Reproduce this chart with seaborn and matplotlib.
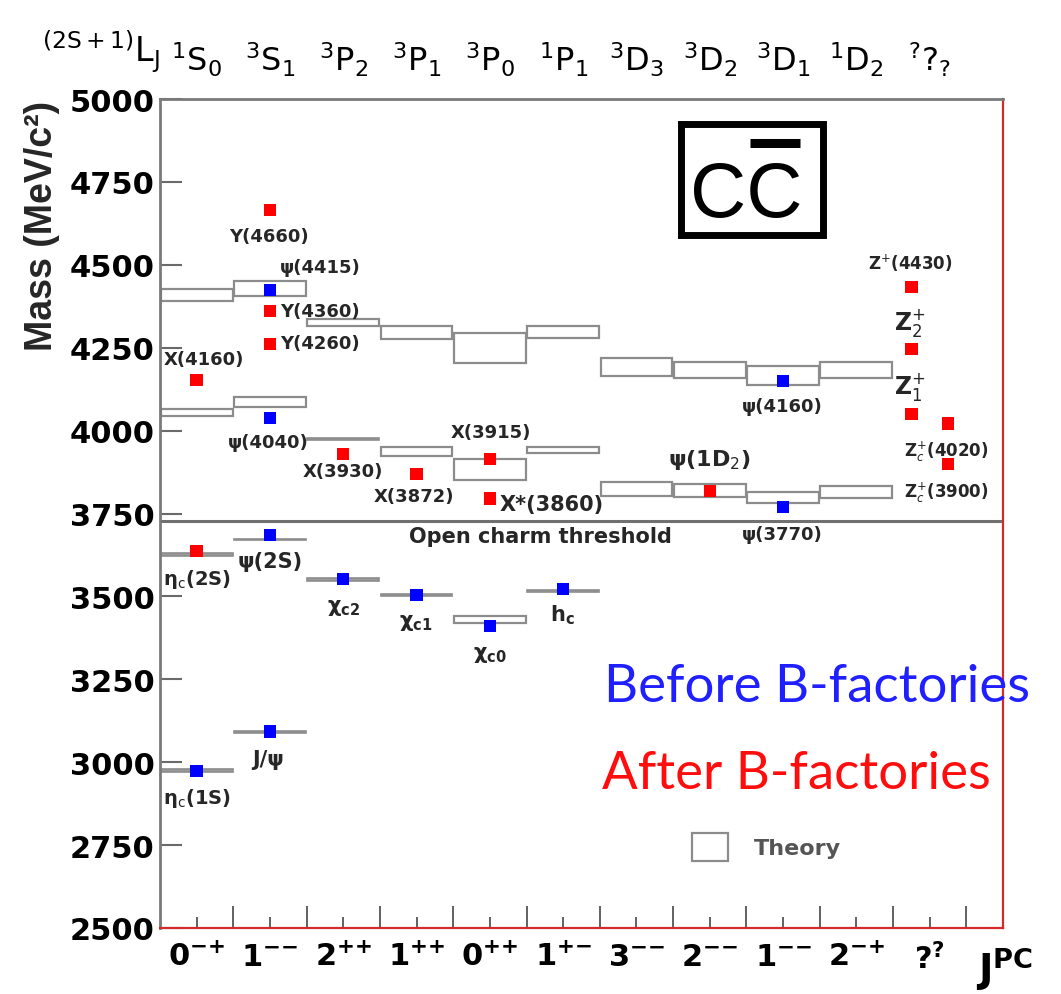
import numpy as np
import pandas as pd
import matplotlib
matplotlib.use("Agg")
import matplotlib.pyplot as plt
import seaborn as sns
from matplotlib.patches import Rectangle, Patch
from matplotlib.lines import Line2D

# ---------------- data ----------------
jpc_labels = [r"$\mathbf{0}^{\mathbf{{-}{+}}}$", r"$\mathbf{1}^{\mathbf{{-}{-}}}$", r"$\mathbf{2}^{\mathbf{{+}{+}}}$",
              r"$\mathbf{1}^{\mathbf{{+}{+}}}$", r"$\mathbf{0}^{\mathbf{{+}{+}}}$", r"$\mathbf{1}^{\mathbf{{+}{-}}}$",
              r"$\mathbf{3}^{\mathbf{{-}{-}}}$", r"$\mathbf{2}^{\mathbf{{-}{-}}}$", r"$\mathbf{1}^{\mathbf{{-}{-}}}$",
              r"$\mathbf{2}^{\mathbf{{-}{+}}}$", r"$\mathbf{?}^{\mathbf{?}}$"]
lj_labels = [r"$^{1}$S$_{0}$", r"$^{3}$S$_{1}$", r"$^{3}$P$_{2}$", r"$^{3}$P$_{1}$", r"$^{3}$P$_{0}$",
             r"$^{1}$P$_{1}$", r"$^{3}$D$_{3}$", r"$^{3}$D$_{2}$", r"$^{3}$D$_{1}$", r"$^{1}$D$_{2}$",
             r"$^{?}$?$_{?}$"]
mass_ticks = [2500, 2750, 3000, 3250, 3500, 3750, 4000, 4250, 4500, 4750, 5000]

# states known before the B-factories (blue)
before_names = ["etac1S", "Jpsi", "psi2S", "chic2", "chic1", "chic0", "hc",
                "psi4040", "psi4415", "psi4160", "psi3770"]
before_col = [0, 1, 1, 2, 3, 4, 5, 1, 1, 8, 8]
before_mass = [2974, 3092, 3685, 3552, 3505, 3411, 3522, 4038, 4424, 4150, 3770]

# states found after the B-factories (red)
after_names = ["etac2S", "X4160", "Y4660", "Y4360", "Y4260", "X3930", "X3872", "X3915",
               "Xs3860", "psi1D2", "Z4430", "Z2", "Z1", "Zc4020", "Zc3900"]
after_col = [0, 0, 1, 1, 1, 2, 3, 4, 4, 7, 10, 10, 10, 10, 10]
after_mass = [3637, 4153, 4665, 4361, 4261, 3929, 3869, 3914, 3795, 3818,
              4433, 4246, 4050, 4021, 3900]

# theory predictions (boxes)
theory_col = [0, 1, 0, 1, 2, 3, 4, 5,
              0, 1, 2, 3, 4, 5, 6, 7, 8, 9,
              0, 1, 2, 3, 4, 5, 6, 7, 8, 9]
theory_lo = [2970, 3087, 3622, 3670, 3547, 3501, 3420, 3513,
             4044, 4071, 3971, 3923, 3851, 3932, 3803, 3800, 3782, 3797,
             4390, 4406, 4315, 4276, 4204, 4279, 4165, 4159, 4138, 4159]
theory_hi = [2978, 3094, 3630, 3673, 3555, 3507, 3441, 3519,
             4065, 4101, 3979, 3951, 3914, 3951, 3845, 3839, 3815, 3833,
             4427, 4451, 4337, 4315, 4294, 4315, 4219, 4207, 4195, 4207]

open_charm = 3727

# ---------------- style ----------------
sns.set_theme(style="white")
plt.rcParams["font.family"] = ["DejaVu Sans"]
plt.rcParams["mathtext.fontset"] = "dejavusans"

W, H = 1061, 995
fig = plt.figure(figsize=(W / 100, H / 100), dpi=100)
ax = fig.add_axes([160 / W, 1 - 929 / H, (1003 - 160) / W, 829 / H])

def fx(px):
    return px / W

def fy(py):
    return 1 - py / H

# theory boxes: wide ones open, narrow ones drawn as thick grey levels
theory = pd.DataFrame({"col": theory_col, "lo": theory_lo, "hi": theory_hi})
theory["h"] = theory["hi"] - theory["lo"]
wide = theory[theory["h"] >= 12]
thin = theory[theory["h"] < 12]
ax.bar(wide["col"], wide["h"], bottom=wide["lo"], width=0.98,
       facecolor="none", edgecolor="#8c8c8c", linewidth=1.6, zorder=2)
ax.bar(thin["col"], thin["h"], bottom=thin["lo"], width=0.98,
       facecolor="#9a9a9a", edgecolor="#8c8c8c", linewidth=1.2, zorder=2)

# open charm threshold
ax.axhline(open_charm, color="#707070", lw=2.2, zorder=2)

# points
dodge = {"Z4430": -0.25, "Z2": -0.25, "Z1": -0.25, "Zc4020": 0.25, "Zc3900": 0.25}
pts = pd.DataFrame({
    "name": before_names + after_names,
    "col": before_col + after_col,
    "mass": before_mass + after_mass,
    "era": ["before"] * len(before_names) + ["after"] * len(after_names),
})
pts["x"] = pts["col"] + pts["name"].map(dodge).fillna(0)
sns.scatterplot(data=pts, x="x", y="mass", hue="era",
                palette={"before": "#0000ff", "after": "#ff0000"},
                marker="s", s=80, edgecolor="none", linewidth=0,
                legend=False, ax=ax, zorder=5)

# axes limits & ticks
ax.set_xlim(-0.5, 11.0)
ax.set_ylim(2500, 5000)
ax.set_xlabel("")
ax.set_ylabel("")
ax.set_yticks(mass_ticks)
ax.set_yticklabels([str(t) for t in mass_ticks], fontweight="bold", fontsize=22)
ax.tick_params(axis="y", direction="in", length=16, width=1.5, color="#6a6a6a",
               pad=4, left=True, labelcolor="black")
ax.set_xticks(np.arange(0.5, 10.6, 1.0))
ax.set_xticklabels([])
ax.set_xticks(np.arange(0, 11), minor=True)
ax.set_xticklabels(jpc_labels, minor=True, fontsize=22)
ax.tick_params(axis="x", which="major", direction="in", length=16, width=1.3,
               color="#555555", bottom=True)
ax.tick_params(axis="x", which="minor", direction="in", length=8, width=1.3,
               color="#555555", bottom=True, pad=10, labelcolor="black")

for side in ["left", "top"]:
    ax.spines[side].set_color("#7a7a7a")
    ax.spines[side].set_linewidth(2)
for side in ["right", "bottom"]:
    ax.spines[side].set_color("#d42a2a")
    ax.spines[side].set_linewidth(1.6)

# top L_J labels
for i, lab in enumerate(lj_labels):
    ax.text(i, 1.034, lab, transform=ax.get_xaxis_transform(), ha="center",
            va="baseline", fontsize=23, color="black")
fig.text(fx(160), fy(62), r"$^{\mathrm{(2S+1)}}$L$_{\mathrm{J}}$", ha="right", va="baseline",
         fontsize=24, color="black")
fig.text(fx(1005), fy(945), r"$\mathbf{J}^{\mathbf{PC}}$", ha="center", va="top",
         fontsize=28, color="black")

# y label
fig.text(fx(42), fy(226), "Mass (MeV/c²)", rotation=90, family="Liberation Sans",
         fontweight="bold", fontsize=27, ha="center", va="center")

# state labels
labels = [
    ("Y(4660)", 0.98, 4587, "center", 13),
    ("ψ(4415)", 1.69, 4493, "center", 13),
    ("Y(4360)", 1.14, 4361, "left", 13),
    ("Y(4260)", 1.14, 4264, "left", 13),
    ("X(4160)", 0.10, 4216, "center", 13),
    ("ψ(4040)", 0.98, 3966, "center", 13),
    ("X(3930)", 2.00, 3878, "center", 13),
    ("X(3872)", 2.97, 3803, "center", 13),
    ("X(3915)", 4.01, 3996, "center", 13),
    ("X*(3860)", 4.13, 3779, "left", 15),
    ("ψ(1D$_2$)", 7.00, 3914, "center", 16),
    ("ψ(4160)", 7.99, 4074, "center", 13),
    ("ψ(3770)", 7.99, 3688, "center", 13),
    ("Open charm threshold", 4.69, 3682, "center", 15),
    ("Z$^{+}$(4430)", 9.73, 4508, "center", 12),
    ("Z$_2^{+}$", 9.73, 4327, "center", 17),
    ("Z$_1^{+}$", 9.73, 4134, "center", 17),
    ("Z$_c^{+}$(4020)", 10.23, 3939, "center", 12),
    ("Z$_c^{+}$(3900)", 10.23, 3815, "center", 12),
    ("η$_\\mathrm{c}$(2S)", 0.0, 3553, "center", 14),
    ("ψ(2S)", 1.0, 3607, "center", 15),
    ("χ$_\\mathbf{c2}$", 2.0, 3468, "center", 15),
    ("χ$_\\mathbf{c1}$", 2.99, 3423, "center", 15),
    ("χ$_\\mathbf{c0}$", 4.0, 3326, "center", 15),
    ("h$_\\mathbf{c}$", 4.99, 3447, "center", 15),
    ("J/ψ", 0.97, 3010, "center", 15),
    ("η$_\\mathrm{c}$(1S)", 0.0, 2895, "center", 14),
]
for txt, x, y, ha, sz in labels:
    ax.text(x, y, txt, ha=ha, va="center", fontsize=sz, fontweight="bold",
            color="#262626", zorder=6)

# theory legend
ax.legend(handles=[Patch(facecolor="none", edgecolor="#8c8c8c", linewidth=1.6)],
          labels=["Theory"], loc="center left",
          bbox_to_anchor=(fx(692), fy(848)), bbox_transform=fig.transFigure,
          frameon=False, prop={"size": 16, "weight": "bold"}, labelcolor="#555555",
          handlelength=1.6, handleheight=1.5, handletextpad=1.2,
          borderpad=0, borderaxespad=0)

# Before / After annotations
fig.text(fx(604), fy(702), "Before B-factories", color="#1f1fff", fontsize=38,
         family="Lato", ha="left", va="baseline")
fig.text(fx(602), fy(789), "After B-factories", color="#ff0d0d", fontsize=38,
         family="Lato", ha="left", va="baseline")

# c c-bar box
fig.add_artist(Rectangle((fx(680.5), fy(235.5)), (822.5 - 680.5) / W, (235.5 - 124.5) / H,
                         transform=fig.transFigure, fill=False, lw=5, edgecolor="black"))
fig.text(fx(746.5), fy(217), "CC", family="Liberation Sans", fontsize=56,
         ha="center", va="baseline", color="black")
fig.add_artist(Line2D([fx(750), fx(800)], [fy(143.5), fy(143.5)], transform=fig.transFigure,
                      lw=6.5, color="black", solid_capstyle="butt"))

fig.savefig("out.png", dpi=100)
